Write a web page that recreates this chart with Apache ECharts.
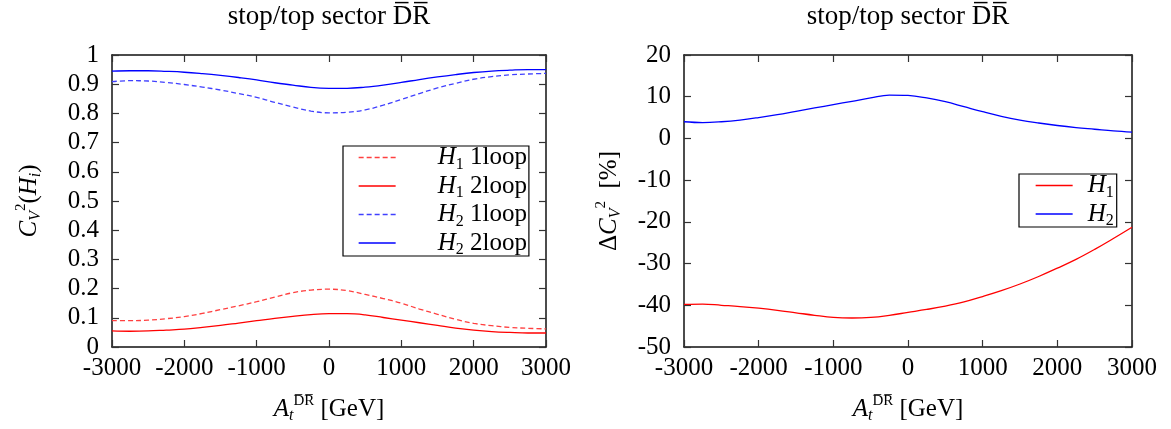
<!DOCTYPE html>
<html>
<head>
<meta charset="utf-8">
<script src="https://cdn.jsdelivr.net/npm/echarts@6/dist/echarts.min.js"></script>
<style>html,body{margin:0;padding:0;background:#fff}#c{width:1171px;height:429px}</style>
</head>
<body>
<div id="c"></div>
<script>
// ---- data ----
const xVals = [-3000, -2750, -2500, -2250, -2000, -1750, -1500, -1250, -1000, -750, -500, -250, 0,
               250, 500, 750, 1000, 1250, 1500, 1750, 2000, 2250, 2500, 2750, 3000];
// left: C_V^2(H_i)
const h1OneLoop = [0.090, 0.090, 0.092, 0.097, 0.104, 0.115, 0.128, 0.141, 0.155, 0.171, 0.186, 0.195, 0.198,
                   0.193, 0.180, 0.166, 0.150, 0.130, 0.112, 0.095, 0.081, 0.073, 0.067, 0.064, 0.062];
const h1TwoLoop = [0.055, 0.054, 0.055, 0.058, 0.061, 0.067, 0.074, 0.082, 0.090, 0.098, 0.105, 0.111, 0.114,
                   0.114, 0.110, 0.101, 0.092, 0.083, 0.074, 0.065, 0.058, 0.053, 0.050, 0.048, 0.048];
const h2OneLoop = [0.909, 0.912, 0.911, 0.906, 0.899, 0.890, 0.880, 0.868, 0.855, 0.838, 0.822, 0.808, 0.802,
                   0.804, 0.812, 0.828, 0.848, 0.868, 0.887, 0.903, 0.917, 0.926, 0.932, 0.935, 0.937];
const h2TwoLoop = [0.945, 0.946, 0.946, 0.944, 0.941, 0.936, 0.930, 0.923, 0.915, 0.905, 0.897, 0.889, 0.886,
                   0.886, 0.890, 0.897, 0.906, 0.916, 0.925, 0.933, 0.940, 0.945, 0.948, 0.950, 0.950];
// right: Delta C_V^2 [%]
const dH1 = [-39.8, -39.7, -40.0, -40.3, -40.7, -41.2, -41.8, -42.4, -42.9, -43.05, -42.9, -42.4, -41.7,
             -41.0, -40.2, -39.2, -37.9, -36.5, -34.9, -33.1, -31.1, -29.0, -26.6, -24.0, -21.3];
const dH2 = [4.0, 3.8, 4.0, 4.4, 5.0, 5.7, 6.5, 7.3, 8.1, 8.9, 9.7, 10.4, 10.3,
             9.7, 8.8, 7.6, 6.4, 5.3, 4.4, 3.7, 3.1, 2.6, 2.2, 1.8, 1.5];

const pairs = ys => xVals.map((x, i) => [x, ys[i]]);

const FONT = 'Liberation Serif';
const RED = '#ff0000', BLUE = '#0000ff', RED_L = '#ff4040', BLUE_L = '#4040ff';

const rich = {
  n: {fontFamily: FONT, fontSize: 25, lineHeight: 30, color: '#000'},
  i: {fontFamily: FONT, fontSize: 25, lineHeight: 30, fontStyle: 'italic', color: '#000'},
  sub: {fontFamily: FONT, fontSize: 16, lineHeight: 15, verticalAlign: 'bottom', color: '#000'},
  subi: {fontFamily: FONT, fontSize: 16, lineHeight: 15, verticalAlign: 'bottom', fontStyle: 'italic', color: '#000'},
  sup: {fontFamily: FONT, fontSize: 15, lineHeight: 15, verticalAlign: 'top', color: '#000'},
  padL: {width: 37, fontSize: 10},
  padR: {width: 10, fontSize: 10}
};

const legendNames = {
  'H1 1loop': '{padL| }{i|H}{sub|1}{n| 1loop}',
  'H1 2loop': '{padL| }{i|H}{sub|1}{n| 2loop}',
  'H2 1loop': '{padL| }{i|H}{sub|2}{n| 1loop}',
  'H2 2loop': '{padL| }{i|H}{sub|2}{n| 2loop}',
  'H1': '{padR| }{i|H}{sub|1}',
  'H2': '{padR| }{i|H}{sub|2}'
};

const axLine = {show: true, onZero: false, lineStyle: {color: '#111', width: 1.5}};
const axTick = {show: true, inside: true, length: 7, lineStyle: {color: '#333', width: 1.2}};
const lblStyle = {fontFamily: FONT, fontSize: 25, color: '#000'};

function xAxes(g) {
  return [{
    gridIndex: g, type: 'value', min: -3000, max: 3000, interval: 1000, position: 'bottom',
    axisLine: axLine, axisTick: axTick,
    axisLabel: Object.assign({margin: 9, formatter: v => String(v)}, lblStyle),
    splitLine: {show: false},
    name: '{i|A}{subi|t}{sup|D\u0305R\u0305}{n| [GeV]}',
    nameLocation: 'middle', nameGap: 47, nameTextStyle: {rich: rich}
  }, {
    gridIndex: g, type: 'value', min: -3000, max: 3000, interval: 1000, position: 'top',
    axisLine: axLine, axisTick: axTick,
    axisLabel: {show: false}, splitLine: {show: false}
  }];
}
function yAxes(g, min, max, interval, name, gap) {
  return [{
    gridIndex: g, type: 'value', min: min, max: max, interval: interval, position: 'left',
    axisLine: axLine, axisTick: axTick,
    axisLabel: Object.assign({margin: 13, formatter: v => String(+v.toFixed(1))}, lblStyle),
    splitLine: {show: false},
    name: name, nameLocation: 'middle', nameRotate: 90, nameGap: gap,
    nameTextStyle: {rich: rich}
  }, {
    gridIndex: g, type: 'value', min: min, max: max, interval: interval, position: 'right',
    axisLine: axLine, axisTick: axTick,
    axisLabel: {show: false}, splitLine: {show: false}
  }];
}

function line(name, data, xi, yi, color, dashed) {
  return {
    name: name, type: 'line', xAxisIndex: xi, yAxisIndex: yi, data: pairs(data),
    smooth: 0.4, showSymbol: false, symbol: 'none', animation: false,
    lineStyle: {color: color, width: 1.3, type: dashed ? [5, 3] : 'solid'},
    itemStyle: {color: color}
  };
}

const legendCommon = {
  orient: 'vertical', itemWidth: 37, itemHeight: 14, itemGap: 1,
  borderColor: '#000', borderWidth: 1.2, backgroundColor: '#fff',
  itemStyle: {opacity: 0}, lineStyle: {width: 1.3},
  formatter: n => legendNames[n], textStyle: {rich: rich}, selectedMode: false
};

const chart = echarts.init(document.getElementById('c'), null, {renderer: 'canvas'});
chart.setOption({
  backgroundColor: '#fff',
  animation: false,
  grid: [
    {left: 112, right: 625, top: 55, height: 292},
    {left: 684, right: 39, top: 55, height: 292}
  ],
  xAxis: [...xAxes(0), ...xAxes(1)],
  yAxis: [
    ...yAxes(0, 0, 1, 0.1, '{i|C}{subi|V}{sup|2}{n|(}{i|H}{subi|i}{n|)}', 68),
    ...yAxes(1, -50, 20, 10, '{n|\u0394}{i|C}{subi|V}{sup|2}{n|  [%]}', 60)
  ],
  legend: [
    Object.assign({}, legendCommon, {left: 343, top: 146, padding: [-1, 2, -2, 15],
      data: ['H1 1loop', 'H1 2loop', 'H2 1loop', 'H2 2loop']}),
    Object.assign({}, legendCommon, {left: 1019, top: 174, padding: [-1, 3, -2, 16],
      data: ['H1', 'H2']})
  ],
  graphic: [
    {type: 'text', x: 329, y: 17, style: {text: 'stop/top sector D\u0305R\u0305', font: '27px "Liberation Serif"', fill: '#000', align: 'center', verticalAlign: 'middle'}},
    {type: 'text', x: 908, y: 17, style: {text: 'stop/top sector D\u0305R\u0305', font: '27px "Liberation Serif"', fill: '#000', align: 'center', verticalAlign: 'middle'}}
  ],
  series: [
    line('H1 1loop', h1OneLoop, 0, 0, RED_L, true),
    line('H1 2loop', h1TwoLoop, 0, 0, RED, false),
    line('H2 1loop', h2OneLoop, 0, 0, BLUE_L, true),
    line('H2 2loop', h2TwoLoop, 0, 0, BLUE, false),
    line('H1', dH1, 2, 2, RED, false),
    line('H2', dH2, 2, 2, BLUE, false)
  ]
});
</script>
</body>
</html>
